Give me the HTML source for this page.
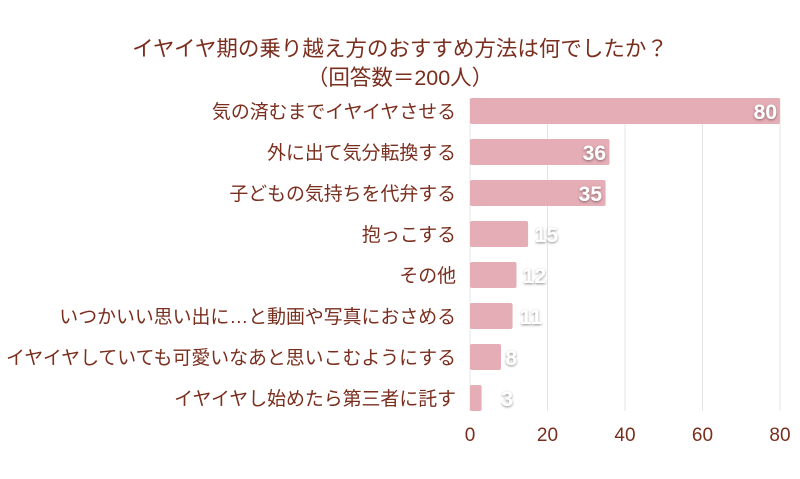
<!DOCTYPE html>
<html><head><meta charset="utf-8"><style>body{margin:0;background:#fff}</style></head><body>
<svg width="800" height="474" xmlns="http://www.w3.org/2000/svg" font-family="'Liberation Sans','Noto Sans CJK JP',sans-serif">
<defs><filter id="s" x="-50%" y="-50%" width="200%" height="200%"><feDropShadow dx="0" dy="1" stdDeviation="1.2" flood-color="#000" flood-opacity="0.45"/></filter></defs>
<text x="400" y="56" text-anchor="middle" font-size="21.5" fill="#7a2e1e">イヤイヤ期の乗り越え方のおすすめ方法は何でしたか？</text>
<text x="400" y="85" text-anchor="middle" font-size="21.5" fill="#7a2e1e">（回答数＝200人）</text>
<g stroke="#e4e4e4" stroke-width="1">
<line x1="547.5" y1="98" x2="547.5" y2="411"/><line x1="625" y1="98" x2="625" y2="411"/><line x1="702.5" y1="98" x2="702.5" y2="411"/><line x1="780" y1="98" x2="780" y2="411"/><line x1="470" y1="98" x2="470" y2="411"/>
</g>
<g fill="#e5adb5">
<rect x="470" y="98" width="310" height="26" rx="2"/>
<rect x="470" y="139" width="139.5" height="26" rx="2"/>
<rect x="470" y="180" width="135.6" height="26" rx="2"/>
<rect x="470" y="221" width="58.1" height="26" rx="2"/>
<rect x="470" y="262" width="46.5" height="26" rx="2"/>
<rect x="470" y="303" width="42.6" height="26" rx="2"/>
<rect x="470" y="344" width="31" height="26" rx="2"/>
<rect x="470" y="385" width="11.6" height="26" rx="2"/>
</g>
<g font-size="21" font-weight="bold" fill="#fff" text-anchor="end" filter="url(#s)">
<text x="777" y="119">80</text><text x="606" y="160">36</text><text x="602" y="201">35</text>
<text x="558" y="242">15</text><text x="546" y="283">12</text><text x="542" y="324">11</text>
<text x="517" y="365">8</text><text x="513" y="406">3</text>
</g>
<g font-size="18.9" fill="#7a2e1e" text-anchor="end">
<text x="456" y="118">気の済むまでイヤイヤさせる</text>
<text x="456" y="159">外に出て気分転換する</text>
<text x="456" y="200">子どもの気持ちを代弁する</text>
<text x="456" y="241">抱っこする</text>
<text x="456" y="282">その他</text>
<text x="456" y="323">いつかいい思い出に…と動画や写真におさめる</text>
<text x="456" y="364">イヤイヤしていても可愛いなあと思いこむようにする</text>
<text x="456" y="405">イヤイヤし始めたら第三者に託す</text>
</g>
<g font-size="19" fill="#7a2e1e" text-anchor="middle">
<text x="470" y="441">0</text><text x="547.5" y="441">20</text><text x="625" y="441">40</text><text x="702.5" y="441">60</text><text x="780" y="441">80</text>
</g>
</svg>
</body></html>
